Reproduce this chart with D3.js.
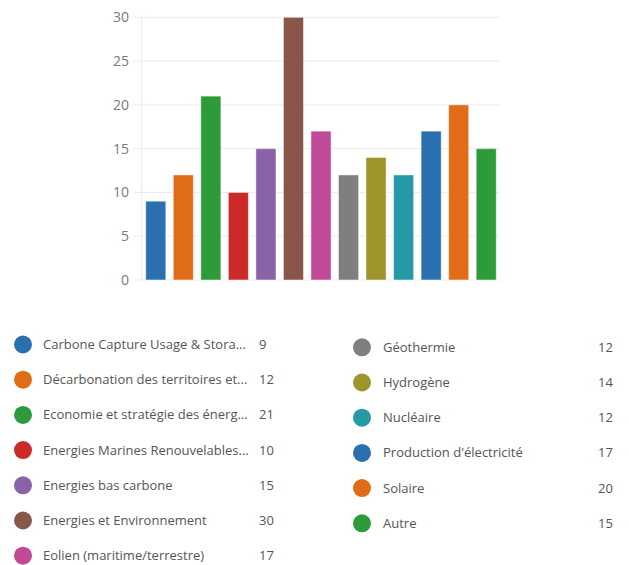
<!DOCTYPE html>
<html><head><meta charset="utf-8">
<script src="https://cdn.jsdelivr.net/npm/d3@7"></script>
<style>body{margin:0;background:#fff;}svg{display:block;}</style>
</head><body>
<svg id="c" width="629" height="565"></svg>
<script>
const categories = ["Carbone Capture Usage & Stora...", "Décarbonation des territoires et...", "Economie et stratégie des énerg...", "Energies Marines Renouvelables...", "Energies bas carbone", "Energies et Environnement", "Eolien (maritime/terrestre)", "Géothermie", "Hydrogène", "Nucléaire", "Production d'électricité", "Solaire", "Autre"];
const values = [9, 12, 21, 10, 15, 30, 17, 12, 14, 12, 17, 20, 15];
const colors = ["#2b70ae", "#e06c17", "#2e9b3a", "#cb2b28", "#8a62a8", "#88564a", "#c04a96", "#7f7f80", "#9e952a", "#2599a6", "#2b70ae", "#e06c17", "#2e9b3a"];
const yTicks = [0, 5, 10, 15, 20, 25, 30];

const svg = d3.select("#c");
const x = d3.scaleBand().domain(categories).range([142, 500]).paddingInner(0.27).paddingOuter(0.135);
const y = d3.scaleLinear().domain([0, 30]).range([280, 17.3]);

// gridlines
svg.append("g").selectAll("line").data(yTicks).join("line")
  .attr("x1", 133).attr("x2", 500)
  .attr("y1", d => y(d)).attr("y2", d => y(d))
  .attr("stroke", "#ebebeb").attr("stroke-width", 1);
// y axis line
svg.append("line").attr("x1", 141.7).attr("x2", 141.7).attr("y1", y(30)).attr("y2", y(0))
  .attr("stroke", "#ebebeb");
// tick labels
svg.append("g").selectAll("text").data(yTicks).join("text")
  .attr("x", 129).attr("y", d => y(d)).attr("dy", "0.35em")
  .attr("text-anchor", "end")
  .attr("font-family", "'Open Sans', sans-serif").attr("font-size", 14)
  .attr("fill", "#7a7a7a").text(d => d);

// bars
svg.append("g").selectAll("rect").data(values).join("rect")
  .attr("x", (d, i) => x(categories[i]))
  .attr("width", x.bandwidth())
  .attr("y", d => y(d))
  .attr("height", d => y(0) - y(d))
  .attr("fill", (d, i) => colors[i])
  .attr("stroke", "#ffffff").attr("stroke-opacity", 0.5).attr("stroke-width", 1);

// legend
const legendRows = categories.map((c, i) => ({c, v: values[i], col: colors[i], i}));
const left = legendRows.slice(0, 7), right = legendRows.slice(7);
function legend(rows, cx, y0, tx, vx) {
  const g = svg.append("g");
  const r = g.selectAll("g").data(rows).join("g")
    .attr("transform", (d, k) => `translate(0,${y0 + k * 35.2})`);
  r.append("circle").attr("cx", cx).attr("cy", 0).attr("r", 9).attr("fill", d => d.col);
  r.append("text").attr("x", tx).attr("y", 0).attr("dy", "0.35em")
    .attr("font-family", "'Open Sans', sans-serif").attr("font-size", 13)
    .attr("fill", "#555").text(d => d.c);
  r.append("text").attr("x", vx).attr("y", 0).attr("dy", "0.35em")
    .attr("font-family", "'Open Sans', sans-serif").attr("font-size", 13)
    .attr("fill", "#555").text(d => d.v);
}
legend(left, 23, 344.5, 43, 259);
legend(right, 362, 347.3, 383, 598);
</script>
</body></html>
